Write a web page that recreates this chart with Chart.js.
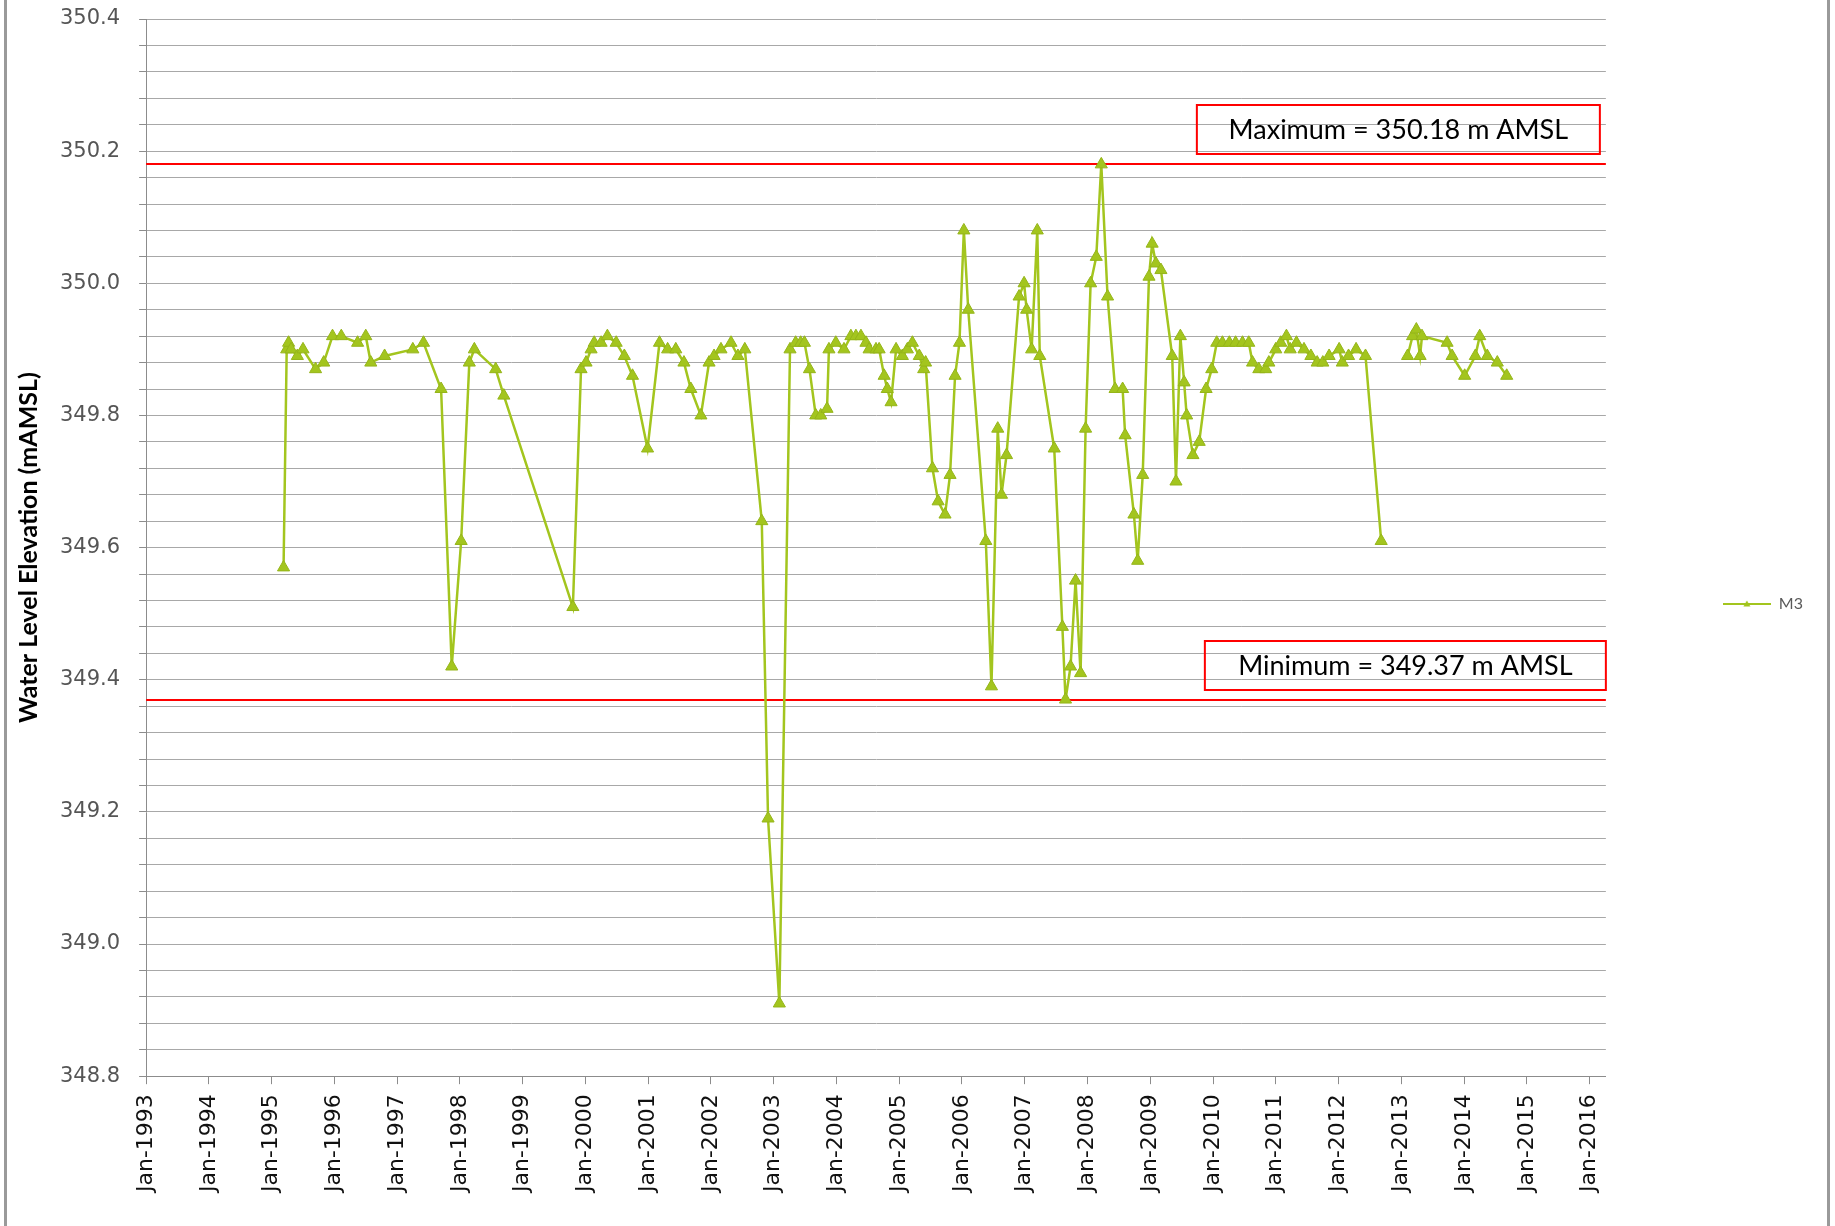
<!DOCTYPE html>
<html>
<head>
<meta charset="utf-8">
<title>M3 water level elevation</title>
<script src="https://cdn.jsdelivr.net/npm/chart.js@4.4.1/dist/chart.umd.min.js"></script>
<style>
  html, body { margin: 0; padding: 0; background: #fff; }
  #wrap { position: relative; width: 1835px; height: 1226px; }
  .edge { position: absolute; top: 0; bottom: 0; width: 3px; background: #9a9a9a; }
</style>
</head>
<body>
<div id="wrap">
  <canvas id="chart" width="1835" height="1226"></canvas>
  <div class="edge" style="left:4px"></div>
  <div class="edge" style="left:1827px"></div>
</div>
<script>
// sample dates as decimal years, with a null level where the record breaks
const sampleYears = [
  1995.19, 1995.24, 1995.27, 1995.31, 1995.41, 1995.50, 1995.70, 1995.83, 1995.97,
  1996.11, 1996.37, 1996.50, 1996.58, 1996.80,
  1997.25, 1997.42, 1997.70, 1997.87,
  1998.02, 1998.15, 1998.23, 1998.57, 1998.70,
  1999.80, 1999.93,
  2000.01, 2000.09, 2000.14, 2000.25, 2000.35, 2000.49, 2000.62, 2000.75, 2000.99,
  2001.18, 2001.31, 2001.44, 2001.57, 2001.68, 2001.84, 2001.97,
  2002.05, 2002.16, 2002.32, 2002.43, 2002.54, 2002.81, 2002.91,
  2003.09, 2003.26, 2003.35, 2003.43, 2003.49, 2003.57, 2003.67, 2003.75, 2003.85, 2003.88, 2003.99,
  2004.12, 2004.23, 2004.31, 2004.39, 2004.47, 2004.52, 2004.63, 2004.68, 2004.76, 2004.81, 2004.87, 2004.95,
  2005.05, 2005.13, 2005.21, 2005.32, 2005.39, 2005.42, 2005.53, 2005.62, 2005.73, 2005.81, 2005.89, 2005.96,
  2006.03, 2006.10, 2006.38, 2006.47, 2006.57, 2006.63, 2006.71, 2006.91, 2006.99,
  2007.03, 2007.11, 2007.20, 2007.24, 2007.47, 2007.60, 2007.65, 2007.73, 2007.81, 2007.89, 2007.97,
  2008.05, 2008.14, 2008.22, 2008.32, 2008.44, 2008.56, 2008.60, 2008.74, 2008.80, 2008.88, 2008.98,
  2009.03, 2009.09, 2009.17, 2009.35, 2009.41, 2009.48, 2009.54, 2009.58, 2009.68, 2009.78, 2009.89, 2009.98,
  2010.06, 2010.15, 2010.26, 2010.36, 2010.47, 2010.57, 2010.63, 2010.73, 2010.84, 2010.89,
  2011.00, 2011.08, 2011.17, 2011.23, 2011.33, 2011.45, 2011.56, 2011.66, 2011.75, 2011.85,
  2012.01, 2012.06, 2012.16, 2012.28, 2012.43, 2012.68, 2012.90,
  2013.10, 2013.18, 2013.24, 2013.30, 2013.33, 2013.73, 2013.81,
  2014.01, 2014.18, 2014.25, 2014.37, 2014.53, 2014.68
];
const waterLevels = [
  349.57, 349.90, 349.91, 349.90, 349.89, 349.90, 349.87, 349.88, 349.92,
  349.92, 349.91, 349.92, 349.88, 349.89,
  349.90, 349.91, 349.84, 349.42,
  349.61, 349.88, 349.90, 349.87, 349.83,
  349.51, 349.87,
  349.88, 349.90, 349.91, 349.91, 349.92, 349.91, 349.89, 349.86, 349.75,
  349.91, 349.90, 349.90, 349.88, 349.84, 349.80, 349.88,
  349.89, 349.90, 349.91, 349.89, 349.90, 349.64, 349.19,
  348.91, 349.90, 349.91, 349.91, 349.91, 349.87, 349.80, 349.80, 349.81, 349.90, 349.91,
  349.90, 349.92, 349.92, 349.92, 349.91, 349.90, 349.90, 349.90, 349.86, 349.84, 349.82, 349.90,
  349.89, 349.90, 349.91, 349.89, 349.87, 349.88, 349.72, 349.67, 349.65, 349.71, 349.86, 349.91,
  350.08, 349.96, 349.61, 349.39, 349.78, 349.68, 349.74, 349.98, 350.00,
  349.96, 349.90, 350.08, 349.89, 349.75, 349.48, 349.37, 349.42, 349.55, 349.41, 349.78,
  350.00, 350.04, 350.18, 349.98, 349.84, 349.84, 349.77, 349.65, 349.58, 349.71, 350.01,
  350.06, 350.03, 350.02, 349.89, 349.70, 349.92, 349.85, 349.80, 349.74, 349.76, 349.84, 349.87,
  349.91, 349.91, 349.91, 349.91, 349.91, 349.91, 349.88, 349.87, 349.87, 349.88,
  349.90, 349.91, 349.92, 349.90, 349.91, 349.90, 349.89, 349.88, 349.88, 349.89,
  349.90, 349.88, 349.89, 349.90, 349.89, 349.61, null,
  349.89, 349.92, 349.93, 349.89, 349.92, 349.91, 349.89,
  349.86, 349.89, 349.92, 349.89, 349.88, 349.86
];
const tickYears = [1993, 1994, 1995, 1996, 1997, 1998, 1999, 2000, 2001, 2002, 2003, 2004,
  2005, 2006, 2007, 2008, 2009, 2010, 2011, 2012, 2013, 2014, 2015, 2016];
const maxLevel = 350.18;
const minLevel = 349.37;
const maxLabel = 'Maximum = 350.18 m AMSL';
const minLabel = 'Minimum = 349.37 m AMSL';

const lineColor = '#a3c51e';

// legend sample: short line with a triangle marker in the middle
const legendIcon = document.createElement('canvas');
legendIcon.width = 48;
legendIcon.height = 12;
const ic = legendIcon.getContext('2d');
ic.strokeStyle = lineColor;
ic.lineWidth = 2;
ic.beginPath(); ic.moveTo(0, 6); ic.lineTo(48, 6); ic.stroke();
ic.fillStyle = lineColor;
ic.beginPath(); ic.moveTo(24, 2.5); ic.lineTo(27.5, 8.5); ic.lineTo(20.5, 8.5); ic.closePath(); ic.fill();

// red max / min lines with their labelled boxes
const limitLines = {
  id: 'limitLines',
  beforeDatasetsDraw(chart) {
    const { ctx, chartArea: a, scales: { y } } = chart;
    ctx.save();
    ctx.strokeStyle = '#ff0000';
    ctx.lineWidth = 2;
    [maxLevel, minLevel].forEach(v => {
      const py = Math.round(y.getPixelForValue(v));
      ctx.beginPath();
      ctx.moveTo(a.left, py);
      ctx.lineTo(a.right, py);
      ctx.stroke();
    });
    ctx.restore();
  },
  afterDraw(chart) {
    const { ctx, chartArea: a, scales: { y } } = chart;
    const boxes = [
      { text: maxLabel, v: maxLevel, left: a.right - 409, right: a.right - 6 },
      { text: minLabel, v: minLevel, left: a.right - 401, right: a.right }
    ];
    ctx.save();
    ctx.strokeStyle = '#ff0000';
    ctx.lineWidth = 2;
    ctx.fillStyle = '#000';
    ctx.font = '27px Lato';
    ctx.textAlign = 'center';
    ctx.textBaseline = 'middle';
    boxes.forEach(b => {
      const bottom = Math.round(y.getPixelForValue(b.v)) - 10;
      const top = bottom - 49;
      ctx.strokeRect(b.left, top, b.right - b.left, bottom - top);
      ctx.fillText(b.text, (b.left + b.right) / 2, (top + bottom) / 2 + 1);
    });
    ctx.restore();
  }
};

new Chart(document.getElementById('chart'), {
  type: 'line',
  data: {
    datasets: [{
      label: 'M3',
      data: sampleYears.map((x, i) => ({ x: x, y: waterLevels[i] })),
      borderColor: lineColor,
      backgroundColor: lineColor,
      borderWidth: 2.5,
      pointStyle: 'triangle',
      pointRadius: 7,
      pointBorderWidth: 1,
      pointBorderColor: '#95b519',
      pointBackgroundColor: lineColor,
      tension: 0,
      spanGaps: false
    }]
  },
  options: {
    responsive: false,
    animation: false,
    layout: { padding: { left: 12, top: 6, right: 22, bottom: 24 } },
    plugins: {
      legend: {
        position: 'right',
        labels: {
          usePointStyle: true,
          pointStyleWidth: 48,
          padding: 117,
          color: '#595959',
          font: { family: 'Lato', size: 16 },
          generateLabels(chart) {
            const items = Chart.defaults.plugins.legend.labels.generateLabels(chart);
            items.forEach(it => { it.pointStyle = legendIcon; });
            return items;
          }
        }
      },
      tooltip: { enabled: false }
    },
    scales: {
      x: {
        type: 'linear',
        min: 1993,
        max: 2016.26,
        afterBuildTicks(scale) {
          scale.ticks = tickYears.map(v => ({ value: v }));
        },
        grid: { drawOnChartArea: false, drawTicks: true, tickLength: 8, color: '#8c8c8c' },
        border: { display: true, color: '#8c8c8c', width: 1 },
        ticks: {
          autoSkip: false,
          maxRotation: 90,
          minRotation: 90,
          padding: 10,
          color: '#111',
          font: { family: 'DejaVu Sans', size: 22 },
          callback: v => 'Jan-' + v
        }
      },
      y: {
        min: 348.8,
        max: 350.4,
        afterFit(scale) {
          // room above the top label, like the original
          scale.paddingTop = 19;
          scale.paddingBottom = 12;
        },
        grid: { color: '#a8a8a8', lineWidth: 1, drawTicks: true, tickLength: 7, tickColor: '#8c8c8c' },
        border: { display: true, color: '#8c8c8c', width: 1 },
        ticks: {
          stepSize: 0.04,
          autoSkip: false,
          padding: 19,
          color: '#555',
          font: { family: 'DejaVu Sans', size: 21 },
          callback: v => Math.abs(v * 5 - Math.round(v * 5)) < 1e-6 ? v.toFixed(1) : ''
        },
        title: {
          display: true,
          text: 'Water Level Elevation (mAMSL)',
          color: '#000',
          font: { family: 'Lato', size: 25, weight: 'bold', lineHeight: 1 },
          padding: { top: 4, bottom: 0 }
        }
      }
    }
  },
  plugins: [limitLines]
});
</script>
</body>
</html>
